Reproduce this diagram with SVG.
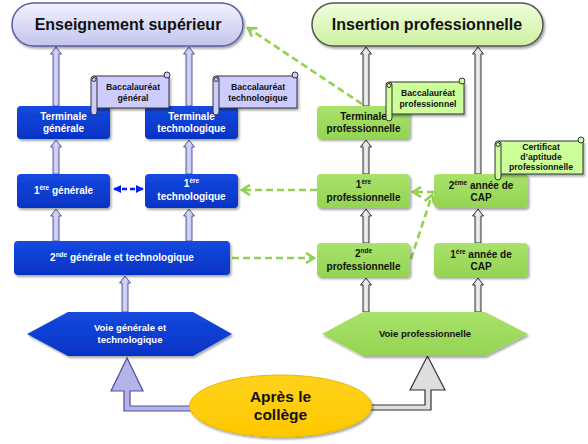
<svg xmlns="http://www.w3.org/2000/svg" width="588" height="444" viewBox="0 0 588 444">
<defs>
<linearGradient id="gBlue" x1="0" y1="0" x2="0" y2="1"><stop offset="0" stop-color="#1549E0"/><stop offset="1" stop-color="#0533C4"/></linearGradient>
<linearGradient id="gGreen" x1="0" y1="0" x2="0" y2="1"><stop offset="0" stop-color="#A8E26A"/><stop offset="1" stop-color="#94D452"/></linearGradient>
<linearGradient id="gPillL" x1="0" y1="0" x2="0" y2="1"><stop offset="0" stop-color="#F2F2FF"/><stop offset="1" stop-color="#C4C4EE"/></linearGradient>
<linearGradient id="gPillR" x1="0" y1="0" x2="0" y2="1"><stop offset="0" stop-color="#F0FFDC"/><stop offset="1" stop-color="#CCF0A0"/></linearGradient>
<linearGradient id="gArrL" x1="0" y1="0" x2="1" y2="0"><stop offset="0" stop-color="#A8A8E0"/><stop offset="0.5" stop-color="#D8D8F6"/><stop offset="1" stop-color="#A8A8E0"/></linearGradient>
<linearGradient id="gArrR" x1="0" y1="0" x2="1" y2="0"><stop offset="0" stop-color="#BDBDBD"/><stop offset="0.5" stop-color="#F0F0F0"/><stop offset="1" stop-color="#BDBDBD"/></linearGradient>
<linearGradient id="gYellow" x1="0" y1="0" x2="0" y2="1"><stop offset="0" stop-color="#FFD21A"/><stop offset="1" stop-color="#FFC800"/></linearGradient>
<filter id="sh" x="-10%" y="-10%" width="130%" height="140%"><feDropShadow dx="1.5" dy="2" stdDeviation="1.3" flood-color="#000" flood-opacity="0.35"/></filter>
<marker id="mG" viewBox="0 0 12 12" refX="10" refY="6" markerWidth="12" markerHeight="12" markerUnits="userSpaceOnUse" orient="auto"><path d="M2,1 L10,6 L2,11" fill="none" stroke="#92D050" stroke-width="2.6"/></marker>
<marker id="mB" viewBox="0 0 10 10" refX="9" refY="5" markerWidth="8" markerHeight="8" markerUnits="userSpaceOnUse" orient="auto-start-reverse"><path d="M0,0 L10,5 L0,10 Z" fill="#0022EE"/></marker>
</defs>
<style>
text{font-family:"Liberation Sans",Arial,sans-serif;font-weight:bold;text-anchor:middle}
.bb{fill:url(#gBlue);filter:url(#sh)}
.gb{fill:url(#gGreen);filter:url(#sh)}
.wt{fill:#FFFFFF;font-size:10px}
.kt{fill:#111111;font-size:10px}
.sc{font-size:8.7px;fill:#111}
.arrL{fill:url(#gArrL);stroke:#5A5AA6;stroke-width:1}
.arrR{fill:url(#gArrR);stroke:#333;stroke-width:1}
.scL{fill:#CCCCFF;stroke:#333;stroke-width:1}
.scR{fill:#CCFF99;stroke:#333;stroke-width:1}
.gd{fill:none;stroke:#92D050;stroke-width:2.6;stroke-dasharray:7 4;marker-end:url(#mG)}
.sup{font-size:6.5px}
</style>

<g id="connectors">
<path class="arrL" d="M53 106 V54 H50.5 L56 47 L61.5 54 H59 V106 Z"/>
<path class="arrL" d="M186 106 V54 H183.5 L189 47 L194.5 54 H192 V106 Z"/>
<path class="arrL" d="M53 174 V147 H50.5 L56 140 L61.5 147 H59 V174 Z"/>
<path class="arrL" d="M186 174 V147 H183.5 L189 140 L194.5 147 H192 V174 Z"/>
<path class="arrL" d="M53 241 V216 H50.5 L56 209 L61.5 216 H59 V241 Z"/>
<path class="arrL" d="M186 241 V216 H183.5 L189 209 L194.5 216 H192 V241 Z"/>
<path class="arrL" d="M122 312 V283 H119.5 L125 276 L130.5 283 H128 V312 Z"/>
<path class="arrR" d="M363 106 V54 H360.5 L366 47 L371.5 54 H369 V106 Z"/>
<path class="arrR" d="M363 174 V147 H360.5 L366 140 L371.5 147 H369 V174 Z"/>
<path class="arrR" d="M363 243 V216 H360.5 L366 209 L371.5 216 H369 V243 Z"/>
<path class="arrR" d="M363 312 V285 H360.5 L366 278 L371.5 285 H369 V312 Z"/>
<path class="arrR" d="M475 174 V54 H472.5 L478 47 L483.5 54 H481 V174 Z"/>
<path class="arrR" d="M475 243 V216 H472.5 L478 209 L483.5 216 H481 V243 Z"/>
<path class="arrR" d="M475 312 V285 H472.5 L478 278 L483.5 285 H481 V312 Z"/>
<path d="M205 411 H124 V391 H111 L127 358 L143 391 H130 V406 H205 Z" fill="#B4B4E8" stroke="#5050A0" stroke-width="1.2"/>
<path d="M355 410 H431 V390 H445 L427.5 356 L410 390 H425 V405 H355 Z" fill="#DEDEDE" stroke="#333" stroke-width="1.2"/>
<path class="gd" d="M362 104 L248 28"/>
<path class="gd" d="M317 190 L242 190"/>
<path class="gd" d="M232 258 L314 258"/>
<path class="gd" d="M411 259 L432 195"/>
<path class="gd" d="M434 192 L413 192"/>
<path d="M114 189 L143 189" fill="none" stroke="#0022EE" stroke-width="2.5" stroke-dasharray="5 3" marker-start="url(#mB)" marker-end="url(#mB)"/>
</g>

<g id="enseignement-superieur">
<rect x="12" y="3" width="231" height="43" rx="21.5" fill="url(#gPillL)" stroke="#5B5BA8" stroke-width="1.5" filter="url(#sh)"/>
<text x="128" y="30" style="font-size:16px;fill:#111">Enseignement supérieur</text>
</g>
<g id="insertion-professionnelle">
<rect x="312" y="3" width="231" height="43" rx="21.5" fill="url(#gPillR)" stroke="#555" stroke-width="1.5" filter="url(#sh)"/>
<text x="427" y="30" style="font-size:16px;fill:#111">Insertion professionnelle</text>
</g>

<g id="terminale-generale">
<rect class="bb" x="17" y="106" width="93" height="33" rx="4"/>
<text class="wt" x="63.5" y="120">Terminale</text>
<text class="wt" x="63.5" y="132">générale</text>
</g>
<g id="terminale-technologique">
<rect class="bb" x="145" y="106" width="93" height="33" rx="4"/>
<text class="wt" x="191.5" y="120">Terminale</text>
<text class="wt" x="191.5" y="132">technologique</text>
</g>
<g id="premiere-generale">
<rect class="bb" x="17" y="174" width="93" height="34" rx="4"/>
<text class="wt" x="63.5" y="194">1<tspan class="sup" dy="-4">ère</tspan><tspan dy="4"> générale</tspan></text>
</g>
<g id="premiere-technologique">
<rect class="bb" x="145" y="174" width="93" height="34" rx="4"/>
<text class="wt" x="191.5" y="187">1<tspan class="sup" dy="-4">ère</tspan></text>
<text class="wt" x="191.5" y="200">technologique</text>
</g>
<g id="seconde-gt">
<rect class="bb" x="14" y="241" width="216" height="34" rx="4"/>
<text class="wt" x="122" y="261">2<tspan class="sup" dy="-4">nde</tspan><tspan dy="4"> générale et technologique</tspan></text>
</g>

<g id="terminale-pro">
<rect class="gb" x="317" y="106" width="93" height="33" rx="4"/>
<text class="kt" x="363.5" y="120">Terminale</text>
<text class="kt" x="363.5" y="132">professionnelle</text>
</g>
<g id="premiere-pro">
<rect class="gb" x="317" y="174" width="93" height="34" rx="4"/>
<text class="kt" x="363.5" y="188">1<tspan class="sup" dy="-4">ère</tspan></text>
<text class="kt" x="363.5" y="201">professionnelle</text>
</g>
<g id="deuxieme-cap">
<rect class="gb" x="434" y="174" width="94" height="34" rx="4"/>
<text class="kt" x="481" y="189">2<tspan class="sup" dy="-4">ème</tspan><tspan dy="4"> année de</tspan></text>
<text class="kt" x="481" y="201">CAP</text>
</g>
<g id="seconde-pro">
<rect class="gb" x="317" y="243" width="93" height="34" rx="4"/>
<text class="kt" x="363.5" y="257">2<tspan class="sup" dy="-4">nde</tspan></text>
<text class="kt" x="363.5" y="270">professionnelle</text>
</g>
<g id="premiere-cap">
<rect class="gb" x="434" y="243" width="94" height="34" rx="4"/>
<text class="kt" x="481" y="258">1<tspan class="sup" dy="-4">ère</tspan><tspan dy="4"> année de</tspan></text>
<text class="kt" x="481" y="270">CAP</text>
</g>

<g id="bac-general">
<rect class="scL" x="95" y="76" width="74" height="32" filter="url(#sh)"/>
<circle class="scL" cx="167" cy="75" r="3"/>
<rect class="scL" x="91" y="76" width="6" height="39" rx="3"/>
<circle class="scL" cx="94" cy="79.5" r="2"/>
<text class="sc" x="133" y="90">Baccalauréat</text>
<text class="sc" x="133" y="101">général</text>
</g>
<g id="bac-techno">
<rect class="scL" x="217" y="76" width="80" height="32" filter="url(#sh)"/>
<circle class="scL" cx="295" cy="75" r="3"/>
<rect class="scL" x="213" y="76" width="6" height="39" rx="3"/>
<circle class="scL" cx="216" cy="79.5" r="2"/>
<text class="sc" x="258" y="90">Baccalauréat</text>
<text class="sc" x="258" y="101">technologique</text>
</g>
<g id="bac-pro">
<rect class="scR" x="390" y="82" width="74" height="32" filter="url(#sh)"/>
<circle class="scR" cx="462" cy="81" r="3"/>
<rect class="scR" x="386" y="82" width="6" height="39" rx="3"/>
<circle class="scR" cx="389" cy="85.5" r="2"/>
<text class="sc" x="428" y="96">Baccalauréat</text>
<text class="sc" x="428" y="107">professionnel</text>
</g>
<g id="cap-certificat">
<rect class="scR" x="499" y="141" width="84" height="33" filter="url(#sh)"/>
<circle class="scR" cx="581" cy="140" r="3"/>
<rect class="scR" x="495" y="141" width="6" height="39" rx="3"/>
<circle class="scR" cx="498" cy="144.5" r="2"/>
<text class="sc" x="541" y="150">Certificat</text>
<text class="sc" x="541" y="160">d’aptitude</text>
<text class="sc" x="541" y="170">professionnelle</text>
</g>

<g id="voie-gt">
<polygon points="27,334 68,312 193,312 232,334 193,356 68,356" fill="url(#gBlue)" filter="url(#sh)"/>
<text class="wt" x="130" y="331" style="font-size:9.5px">Voie générale et</text>
<text class="wt" x="130" y="343" style="font-size:9.5px">technologique</text>
</g>
<g id="voie-pro">
<polygon points="322,334 363,312 485,312 528,334 485,356 363,356" fill="url(#gGreen)" filter="url(#sh)"/>
<text class="kt" x="425" y="337" style="font-size:9.5px">Voie professionnelle</text>
</g>

<g id="apres-college">
<ellipse cx="280.5" cy="406" rx="91" ry="31" fill="url(#gYellow)" stroke="#E8B800" stroke-width="1" filter="url(#sh)"/>
<text x="280.5" y="402" style="font-size:15.5px;fill:#111">Après le</text>
<text x="280.5" y="420" style="font-size:15.5px;fill:#111">collège</text>
</g>
</svg>
